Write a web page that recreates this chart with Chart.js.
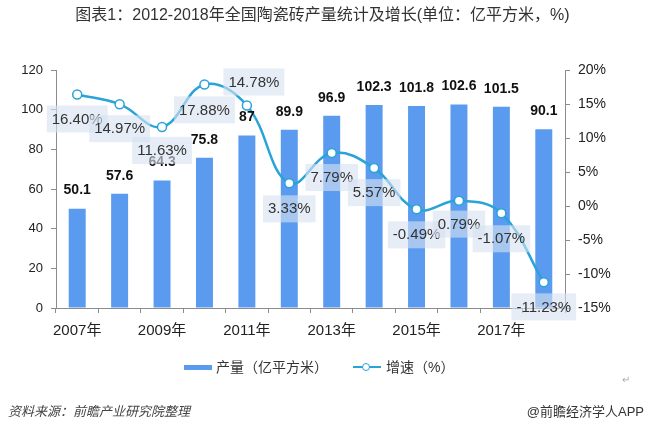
<!DOCTYPE html>
<html>
<head>
<meta charset="utf-8">
<script src="https://cdn.jsdelivr.net/npm/chart.js@4/dist/chart.umd.min.js"></script>
<style>
  body { margin: 0; background: #fff; }
  #wrap { position: relative; width: 647px; height: 432px; font-family: "Liberation Sans", "Noto Sans CJK SC", sans-serif; color: #333; }
  #wrap canvas { position: absolute; left: 0; top: 0; }
  .title { position: absolute; left: 0; top: 5px; width: 645px; text-align: center; font-size: 16px; line-height: 20px; }
  .legend { position: absolute; left: 184px; top: 357px; font-size: 14px; line-height: 18px; white-space: nowrap; }
  .legend span { display: inline-block; vertical-align: middle; }
  .sw-bar { width: 28px; height: 5px; background: #5a9bef; margin-right: 4px; }
  .sw-line { position: relative; width: 28px; height: 10px; margin-left: 25px; margin-right: 5px; }
  .sw-line:before { content: ""; position: absolute; left: 0; top: 4px; width: 28px; height: 2px; background: #29a3d8; }
  .sw-line:after { content: ""; position: absolute; left: 9px; top: 1px; width: 6px; height: 6px; border: 1.5px solid #29a3d8; border-radius: 50%; background: #fff; }
  .src { position: absolute; left: 8px; top: 401px; font-size: 13px; font-style: italic; color: #444; }
  .brand { position: absolute; right: 3px; top: 401px; font-size: 13px; color: #333; }
  .mark { position: absolute; left: 622px; top: 374px; font-size: 10px; color: #aaa; }
</style>
</head>
<body>
<div id="wrap">
  <canvas id="chart" width="647" height="432"></canvas>
  <div class="title">图表1：2012-2018年全国陶瓷砖产量统计及增长(单位：亿平方米，%)</div>
  <div class="legend"><span class="sw-bar"></span><span>产量（亿平方米）</span><span class="sw-line"></span><span>增速（%）</span></div>
  <div class="mark">↵</div>
  <div class="src">资料来源：前瞻产业研究院整理</div>
  <div class="brand">@前瞻经济学人APP</div>
</div>
<script>
var years = ['2007年', '2008年', '2009年', '2010年', '2011年', '2012年', '2013年', '2014年', '2015年', '2016年', '2017年', '2018年'];
var output = [50.1, 57.6, 64.3, 75.8, 87, 89.9, 96.9, 102.3, 101.8, 102.6, 101.5, 90.1];
var growth = [16.40, 14.97, 11.63, 17.88, 14.78, 3.33, 7.79, 5.57, -0.49, 0.79, -1.07, -11.23];

// where each growth label sits relative to its point
var labelOffsets = [[0, 25], [0, 25], [0, 24], [0, 26], [7, -23], [0, 26], [0, 25], [0, 25], [0, 26], [0, 24], [0, 26], [0, 25]];

var barColor = '#5a9bef';
var lineColor = '#29a3d8';
var axisColor = '#8c8c8c';

var valueLabels = {
  id: 'valueLabels',
  afterDatasetsDraw: function (chart) {
    var ctx = chart.ctx;
    ctx.save();
    // bar values
    var bars = chart.getDatasetMeta(0).data;
    ctx.font = 'bold 14px "Liberation Sans", Arial, sans-serif';
    ctx.fillStyle = '#111';
    ctx.textAlign = 'center';
    ctx.textBaseline = 'middle';
    for (var i = 0; i < bars.length; i++) {
      ctx.fillText(String(output[i]), bars[i].x, bars[i].y - 18);
    }
    // growth labels in boxes
    var pts = chart.getDatasetMeta(1).data;
    ctx.font = '15px "Liberation Sans", Arial, sans-serif';
    for (var j = 0; j < pts.length; j++) {
      var txt = growth[j].toFixed(2) + '%';
      var cx = pts[j].x + labelOffsets[j][0];
      var cy = pts[j].y + labelOffsets[j][1];
      var w = ctx.measureText(txt).width + 10;
      ctx.fillStyle = 'rgba(214, 226, 240, 0.62)';
      ctx.fillRect(cx - w / 2, cy - 14, w, 27);
      ctx.fillStyle = '#333';
      ctx.fillText(txt, cx, cy);
    }
    ctx.restore();
  }
};

var ctx = document.getElementById('chart').getContext('2d');
var chart = new Chart(ctx, {
  data: {
    labels: years,
    datasets: [{
      type: 'bar',
      label: '产量（亿平方米）',
      data: output,
      backgroundColor: barColor,
      yAxisID: 'y',
      barPercentage: 0.4,
      categoryPercentage: 1,
      order: 2
    }, {
      type: 'line',
      label: '增速（%）',
      data: growth,
      borderColor: lineColor,
      borderWidth: 2.5,
      tension: 0.4,
      pointRadius: 4.5,
      pointBorderWidth: 1.5,
      pointBackgroundColor: '#fff',
      pointBorderColor: lineColor,
      yAxisID: 'y1',
      order: 1
    }]
  },
  options: {
    responsive: false,
    animation: false,
    devicePixelRatio: 1,
    layout: { padding: { top: 70, bottom: 94, left: 0, right: 0 } },
    plugins: {
      legend: { display: false },
      tooltip: { enabled: false }
    },
    scales: {
      x: {
        grid: { drawOnChartArea: false, tickLength: 5, color: axisColor, offset: true },
        border: { color: axisColor },
        ticks: {
          color: '#222',
          padding: 9,
          maxRotation: 0,
          autoSkip: false,
          font: { size: 15, family: '"Liberation Sans", "Noto Sans CJK SC", sans-serif' },
          callback: function (v, i) { return i % 2 == 0 ? years[i] : ''; }
        },
        afterFit: function (s) { s.height = 30; }
      },
      y: {
        position: 'left',
        min: 0,
        max: 120,
        grid: { drawOnChartArea: false, tickLength: 5, color: axisColor },
        border: { color: axisColor },
        ticks: {
          stepSize: 20,
          color: '#222',
          padding: 8,
          font: { size: 13, family: '"Liberation Sans", Arial, sans-serif' }
        },
        afterFit: function (s) { s.width = 56; }
      },
      y1: {
        position: 'right',
        min: -15,
        max: 20,
        grid: { drawOnChartArea: false, tickLength: 5, color: axisColor },
        border: { color: axisColor },
        ticks: {
          stepSize: 5,
          color: '#222',
          padding: 8,
          font: { size: 14, family: '"Liberation Sans", Arial, sans-serif' },
          callback: function (v) { return v + '%'; }
        },
        afterFit: function (s) { s.width = 82; }
      }
    }
  },
  plugins: [valueLabels]
});
</script>
</body>
</html>
